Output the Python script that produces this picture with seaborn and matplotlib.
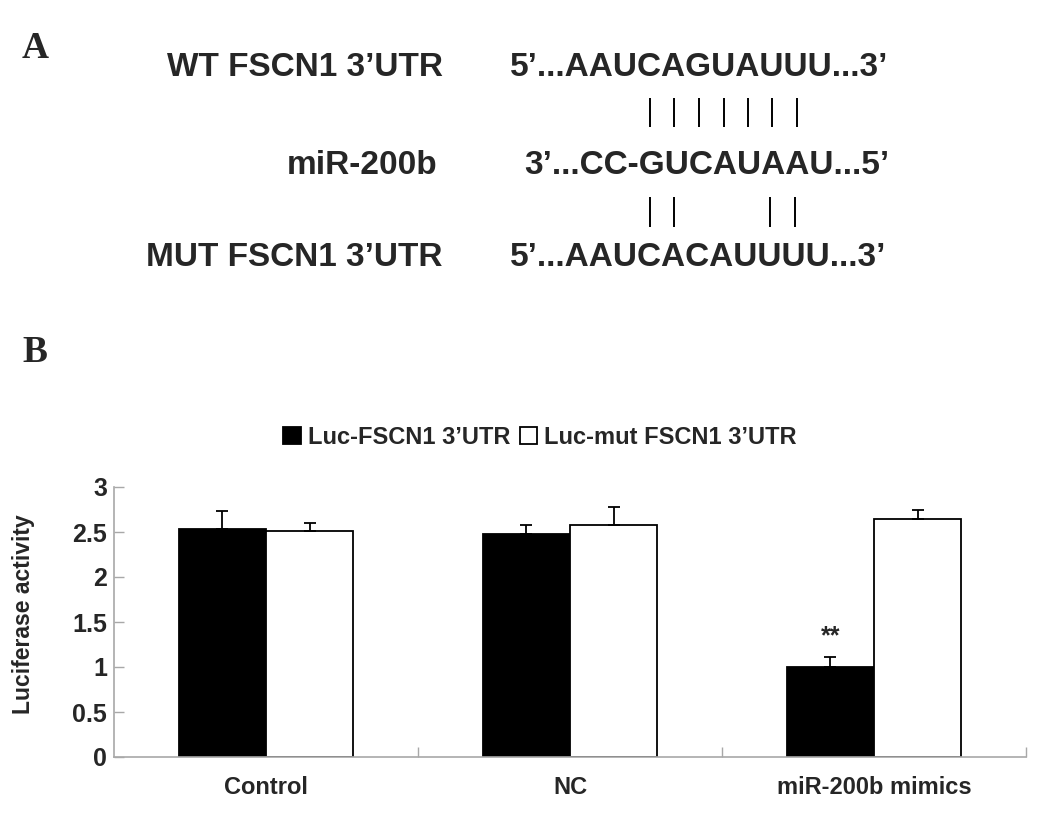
import matplotlib
matplotlib.use("Agg")
import matplotlib.pyplot as plt
import seaborn as sns
import pandas as pd
import numpy as np
from matplotlib.ticker import FixedLocator, FixedFormatter
from matplotlib.font_manager import FontProperties

# ---------------- data ----------------
categories = ["Control", "NC", "miR-200b mimics"]
series = ["Luc-FSCN1 3’UTR", "Luc-mut FSCN1 3’UTR"]
wt_values = [2.53, 2.48, 1.00]
mut_values = [2.51, 2.58, 2.65]
wt_err = [0.20, 0.10, 0.11]
mut_err = [0.09, 0.20, 0.09]
yticks = [0, 0.5, 1, 1.5, 2, 2.5, 3]
ytick_labels = ["0", "0.5", "1", "1.5", "2", "2.5", "3"]
significance = ["", "", "**"]

seq_labels = ["WT FSCN1 3’UTR", "miR-200b", "MUT FSCN1 3’UTR"]
seq_strings = ["5’...AAUCAGUAUUU...3’", "3’...CC-GUCAUAAU...5’", "5’...AAUCACAUUUU...3’"]
wt_pairs = [8, 9, 10, 11, 12, 13, 14]
mut_pairs = [8, 9, 13, 14]

# ---------------- style ----------------
sns.set_style("white")
plt.rcParams["font.family"] = ["Liberation Sans", "DejaVu Sans"]
plt.rcParams["font.weight"] = "bold"
plt.rcParams["axes.labelweight"] = "bold"

W, H = 1041, 826
fig = plt.figure(figsize=(W / 100, H / 100), dpi=100)

# ---------------- panel A ----------------
ax_a = fig.add_axes([0, 0, 1, 1])
ax_a.set_xlim(0, W)
ax_a.set_ylim(H, 0)
ax_a.axis("off")

seq_fs = 24
label_right = [443, 437, 443]
seq_left = [510, 524, 510]
row_y = [67, 166, 258]
for lab, s, xr, xl, y in zip(seq_labels, seq_strings, label_right, seq_left, row_y):
    ax_a.text(xr, y, lab, ha="right", va="center", fontsize=seq_fs, fontweight="bold")
    ax_a.text(xl, y, s, ha="left", va="center", fontsize=seq_fs, fontweight="bold")

fig.canvas.draw()
renderer = fig.canvas.get_renderer()
fp = FontProperties(family=["Liberation Sans", "DejaVu Sans"], weight="bold", size=seq_fs)


def width(s):
    if not s:
        return 0.0
    w, h, d = renderer.get_text_width_height_descent(s, fp, ismath=False)
    return w


def centers(s, x0, idxs):
    return [x0 + (width(s[:i]) + width(s[:i + 1])) / 2 for i in idxs]


wt_x = centers(seq_strings[0], seq_left[0], wt_pairs)
mut_x = centers(seq_strings[2], seq_left[2], mut_pairs)
ax_a.vlines(wt_x, 98, 127, color="black", lw=1.4)
ax_a.vlines(mut_x, 197, 227, color="black", lw=1.4)

fig.text(22 / W, 1 - 58 / H, "A", family="Liberation Serif", fontsize=27,
         fontweight="bold", ha="left", va="baseline")
fig.text(22 / W, 1 - 362 / H, "B", family="Liberation Serif", fontsize=27,
         fontweight="bold", ha="left", va="baseline")

# ---------------- panel B ----------------
ax = fig.add_axes([114 / W, 1 - 757 / H, 912 / W, 270 / H])
df = pd.DataFrame({
    "group": categories * 2,
    "value": wt_values + mut_values,
    "series": [series[0]] * 3 + [series[1]] * 3,
})
sns.barplot(data=df, x="group", y="value", hue="series", hue_order=series,
            order=categories, palette=["black", "white"], edgecolor="black",
            linewidth=1.3, width=0.575, saturation=1, errorbar=None, ax=ax)

for cont, errs, sig in zip(ax.containers, [wt_err, mut_err], [significance, ["", "", ""]]):
    xs = [p.get_x() + p.get_width() / 2 for p in cont]
    ys = [p.get_height() for p in cont]
    ax.errorbar(xs, ys, yerr=[np.zeros(len(errs)), errs], fmt="none", ecolor="black",
                elinewidth=1.3, capsize=4, capthick=1.3, zorder=1)
    for x, y, e, s in zip(xs, ys, errs, sig):
        if s:
            ax.annotate(s, xy=(x, y + e), xytext=(0, 6), textcoords="offset points",
                        ha="center", va="bottom", fontsize=18, fontweight="bold")

ax.set_xlim(-0.5, 2.5)
ax.set_ylim(0, 3)
grey = "#a8a8a8"
for side in ["top", "right"]:
    ax.spines[side].set_visible(False)
for side in ["left", "bottom"]:
    ax.spines[side].set_color(grey)
    ax.spines[side].set_linewidth(1.2)

ax.yaxis.set_major_locator(FixedLocator(yticks))
ax.yaxis.set_major_formatter(FixedFormatter(ytick_labels))
ax.tick_params(axis="y", which="major", direction="in", length=7, width=1, color=grey,
               labelsize=18, pad=5, left=True)
ax.set_xticks(range(len(categories)))
ax.set_xticklabels(categories, fontsize=17, fontweight="bold")
ax.xaxis.set_minor_locator(FixedLocator([0.5, 1.5, 2.5]))
ax.tick_params(axis="x", which="major", length=0, pad=14)
ax.tick_params(axis="x", which="minor", direction="in", length=7, width=1, color=grey,
               bottom=True)
for t in ax.get_yticklabels():
    t.set_fontweight("bold")

ax.set_xlabel("")
ax.set_ylabel("Luciferase activity", fontsize=16.5, fontweight="bold")
ax.yaxis.set_label_coords((35 - 114) / 912, (757 - 614) / 270)

sns.move_legend(ax, loc="center", bbox_to_anchor=(540 / W, 1 - 437 / H),
                bbox_transform=fig.transFigure, ncol=2, frameon=False, title=None,
                fontsize=17, handlelength=0.75, handleheight=0.75, handletextpad=0.3,
                columnspacing=0.4, borderaxespad=0)
for t in ax.get_legend().get_texts():
    t.set_fontweight("bold")

fig.savefig("out.png", dpi=100)
